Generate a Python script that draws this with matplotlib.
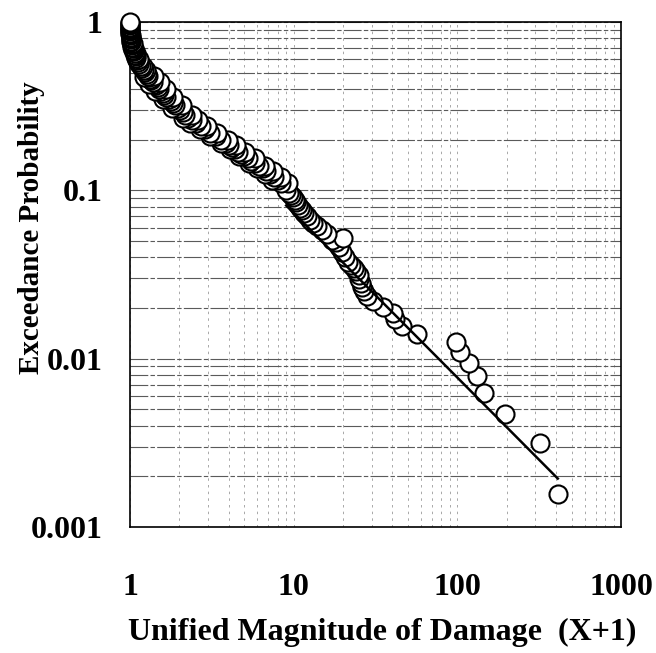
import matplotlib
matplotlib.use("Agg")
import matplotlib.pyplot as plt
from matplotlib.ticker import LogLocator, NullFormatter, FixedLocator, FixedFormatter

# ---- data ----
# centre of the band of circles, then the tail
damage_x = [
    1.000, 1.000, 1.000, 1.000, 1.001, 1.002, 1.003, 1.004, 1.005, 1.006,
    1.007, 1.009, 1.011, 1.013, 1.015, 1.018, 1.020, 1.022, 1.025, 1.033,
    1.041, 1.050, 1.058, 1.067, 1.076, 1.086, 1.095, 1.105, 1.118, 1.139,
    1.162, 1.185, 1.210, 1.236,
    1.263, 1.282, 1.302, 1.324, 1.352, 1.380, 1.410, 1.441, 1.474, 1.508,
    1.544, 1.582, 1.622, 1.670, 1.720, 1.774, 1.831, 1.893, 1.957, 2.027,
    2.101, 2.181, 2.267, 2.377, 2.529, 2.697, 2.885, 3.094, 3.330, 3.597,
    3.886, 4.042, 4.207, 4.385, 4.576, 4.780, 5.001, 5.241, 5.497, 5.777,
    6.10, 6.46, 6.80, 7.20, 7.60, 8.00, 8.40,
    9.00, 9.30, 9.60, 9.90, 10.15, 10.40, 10.65, 10.90, 11.20, 11.60,
    12.00, 12.50, 13.10, 13.90, 14.90, 15.90, 20.0, 17.15, 18.23, 18.99,
    19.80, 20.70, 21.60, 22.38, 23.22, 24.08, 25.07,
    25.0, 25.8, 26.3, 26.8, 28.0, 30.5, 35.0, 40.6, 41.6, 45.7,
    56.9, 98.0, 103.8, 117.2, 131.7, 145.4, 196.3, 320.6, 411.0,
]
exceed_p = [
    1.000, 0.985, 0.970, 0.955, 0.940, 0.925, 0.910, 0.895, 0.880, 0.865,
    0.850, 0.835, 0.820, 0.805, 0.790, 0.775, 0.760, 0.745, 0.730, 0.715,
    0.700, 0.685, 0.670, 0.655, 0.640, 0.625, 0.610, 0.595, 0.580, 0.565,
    0.550, 0.535, 0.520, 0.505,
    0.49, 0.48, 0.47, 0.46, 0.45, 0.44, 0.43, 0.42, 0.41, 0.40,
    0.39, 0.38, 0.37, 0.36, 0.35, 0.34, 0.33, 0.32, 0.31, 0.30,
    0.29, 0.28, 0.27, 0.26, 0.25, 0.24, 0.23, 0.22, 0.21, 0.20,
    0.190, 0.185, 0.180, 0.175, 0.170, 0.165, 0.160, 0.155, 0.150, 0.145,
    0.140, 0.135, 0.130, 0.125, 0.120, 0.115, 0.110,
    0.100, 0.097, 0.094, 0.091, 0.088, 0.085, 0.082, 0.079, 0.076, 0.073,
    0.070, 0.067, 0.064, 0.061, 0.058, 0.055, 0.052, 0.051, 0.049, 0.046,
    0.043, 0.040, 0.0377, 0.0361, 0.0345, 0.0330, 0.0314,
    0.0298, 0.0283, 0.0267, 0.0251, 0.0235, 0.0220, 0.0204, 0.0188, 0.0173, 0.0157,
    0.0141, 0.0126, 0.0110, 0.00942, 0.00785, 0.00628, 0.00471, 0.00314, 0.00157,
]
# circles on the upper-right and lower-left edges of the thick band
edge_x = [
    1.04, 1.06, 1.09, 1.13, 1.20, 1.26,
    1.41, 1.52, 1.66, 1.84, 2.08, 2.40, 2.62, 2.97, 3.40, 3.96, 4.45, 5.03,
    5.77, 6.70, 7.50, 8.40, 9.20,
    1.21, 1.31, 1.43, 1.59, 1.81, 2.10, 2.34, 2.67, 3.08, 3.60, 4.06, 4.63,
    5.35, 5.98, 6.67, 7.40,
]
edge_p = [
    0.75, 0.70, 0.65, 0.60, 0.55, 0.52,
    0.48, 0.44, 0.40, 0.36, 0.32, 0.28, 0.26, 0.24, 0.22, 0.20, 0.185, 0.17,
    0.155, 0.14, 0.13, 0.12, 0.11,
    0.47, 0.43, 0.39, 0.35, 0.31, 0.27, 0.25, 0.23, 0.21, 0.19, 0.175, 0.16,
    0.145, 0.135, 0.125, 0.115,
]
fit_x = [9.0, 411.0]
fit_y = [0.0813, 0.00194]

x_ticks = [1, 10, 100, 1000]
x_tick_labels = ["1", "10", "100", "1000"]
y_ticks = [0.001, 0.01, 0.1, 1]
y_tick_labels = ["0.001", "0.01", "0.1", "1"]

# ---- figure ----
plt.rcParams["font.family"] = ["Liberation Serif", "DejaVu Serif"]
plt.rcParams["font.weight"] = "bold"

fig = plt.figure(figsize=(6.56, 6.53), dpi=100)
ax = fig.add_axes([130 / 656, 1 - 527 / 653, 491 / 656, 505 / 653])
ax.set_xscale("log")
ax.set_yscale("log")
ax.set_xlim(1, 1000)
ax.set_ylim(0.001, 1)

# grid
ax.yaxis.set_minor_locator(LogLocator(base=10, subs=range(2, 10)))
ax.xaxis.set_minor_locator(LogLocator(base=10, subs=range(2, 10)))
ax.yaxis.set_minor_formatter(NullFormatter())
ax.xaxis.set_minor_formatter(NullFormatter())
ax.grid(True, axis="y", which="both", color="#5a5a5a", linewidth=0.8,
        linestyle=(0, (16, 2, 4, 2)))
ax.grid(True, axis="x", which="both", color="#9a9a9a", linewidth=0.6,
        linestyle=(0, (3, 5)))
ax.set_axisbelow(True)

# data: draw from lowest probability to highest so the top circle is on top
all_x = damage_x + edge_x
all_p = exceed_p + edge_p
order = sorted(range(len(all_p)), key=lambda i: (all_p[i], -all_x[i]))
xs = [all_x[i] for i in order]
ys = [all_p[i] for i in order]
ax.plot(xs, ys, linestyle="none", marker="o", markersize=13,
        markerfacecolor="white", markeredgecolor="black",
        markeredgewidth=1.5, clip_on=False, zorder=3)
ax.plot(fit_x, fit_y, color="black", linewidth=1.8, zorder=4)

ax.xaxis.set_major_locator(FixedLocator(x_ticks))
ax.xaxis.set_major_formatter(FixedFormatter(x_tick_labels))
ax.yaxis.set_major_locator(FixedLocator(y_ticks))
ax.yaxis.set_major_formatter(FixedFormatter(y_tick_labels))
ax.tick_params(which="both", length=0)
ax.tick_params(axis="x", labelsize=23, pad=33)
ax.tick_params(axis="y", labelsize=23, pad=20)

for s in ax.spines.values():
    s.set_color("black")
    s.set_linewidth(1.2)

ax.set_xlabel("Unified Magnitude of Damage  (X+1)", fontsize=23, fontweight="bold")
ax.set_ylabel("Exceedance Probability", fontsize=21, fontweight="bold")
ax.xaxis.set_label_coords(0.513, -0.181)
ax.yaxis.set_label_coords(-0.173, 0.592)

fig.savefig("out.png", dpi=100)
